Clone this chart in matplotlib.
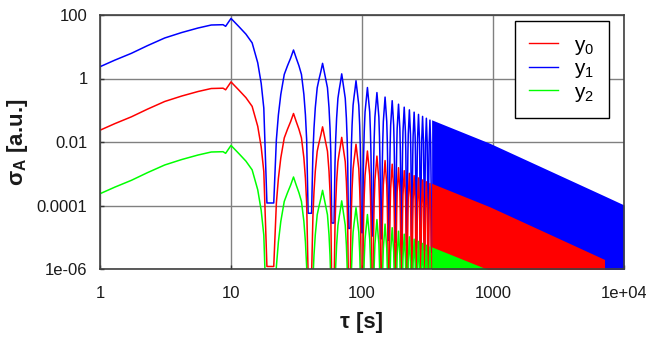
import matplotlib
matplotlib.use("Agg")
import matplotlib.pyplot as plt
from matplotlib.lines import Line2D

plt.rcParams['font.family'] = ['Liberation Sans', 'DejaVu Sans']
plt.rcParams['mathtext.fontset'] = 'custom'
plt.rcParams['mathtext.rm'] = 'Liberation Sans'
plt.rcParams['mathtext.bf'] = 'Liberation Sans:bold'

# ---------------- data (y1 = blue curve) ----------------
series_names = ["y0", "y1", "y2"]
series_colors = ["#ff0000", "#0000ff", "#00ff00"]
series_gain = [1e-2, 1.0, 1e-4]          # y0 and y2 sit 2 decades below / 4 below y1

rise_tau = [1, 1.3, 1.735, 2.3, 3.12, 4.2, 5.6, 7.07, 8.7, 9.1]
rise_y1 = [2.35, 3.8, 6.2, 10.8, 18.9, 28, 38.9, 48.4, 49.5, 44]

lobe_peak_tau = [10, 30, 50, 70, 90, 110, 130, 150, 170, 190, 210, 230, 250, 270, 290, 310, 330]
lobe_peak_y1 = [78, 7.9, 3.0, 1.4, 0.85, 0.52, 0.36, 0.26, 0.2, 0.155, 0.125, 0.103,
                0.087, 0.074, 0.064, 0.056, 0.049]

lobe_offset = [1.5, 3.0, 4.5, 6.0, 7.0, 7.8]          # distance from lobe peak [s]
lobe_ratio = [0.55, 0.32, 0.17, 0.04, 0.009, 0.0015]  # value relative to lobe peak

zero_tau = [20, 40, 60, 80, 100, 120, 140, 160, 180, 200, 220, 240, 260, 280, 300, 320, 340]
zero_floor_y1 = [1.2e-4, 5.7e-5, 2.8e-5, 1.9e-5, 1.4e-5, 1.1e-5, 9e-6, 8e-6, 7e-6, 6e-6,
                 5.5e-6, 5e-6, 4.6e-6, 4.2e-6, 3.9e-6, 3.6e-6, 3.4e-6]

dense_tau = [340, 946, 7100, 10000]
dense_top_y1 = [0.05, 0.0091, 2.0e-4, 1.04e-4]
dense_end = [7100, 10000, 10000]    # where each series' dense band stops being visible

x_ticks = [1, 10, 100, 1000, 10000]
x_ticklabels = ["1", "10", "100", "1000", "1e+04"]
y_ticks = [1e-6, 1e-4, 1e-2, 1, 100]
y_ticklabels = ["1e-06", "0.0001", "0.01", "1", "100"]

FLOOR_HALF = 1.2
BOTTOM = 1e-9


def build(gain):
    t = list(rise_tau)
    v = [y * gain for y in rise_y1]
    for k, (tp, pk) in enumerate(zip(lobe_peak_tau, lobe_peak_y1)):
        if k > 0:
            for d, r in zip(reversed(lobe_offset), reversed(lobe_ratio)):
                t.append(tp - d)
                v.append(pk * r * gain)
        t.append(tp)
        v.append(pk * gain)
        for d, r in zip(lobe_offset, lobe_ratio):
            t.append(tp + d)
            v.append(pk * r * gain)
        z = zero_tau[k]
        f = zero_floor_y1[k] * gain
        t += [z - FLOOR_HALF, z + FLOOR_HALF]
        v += [f, f]
    return t, v


fig = plt.figure(figsize=(6.46, 3.38), dpi=100)
ax = fig.add_axes([100 / 646, 1 - 269 / 338, 524 / 646, 254 / 338])
ax.set_xscale('log')
ax.set_yscale('log')

draw_order = [1, 0, 2]
for z, i in enumerate(draw_order):
    g = series_gain[i]
    t, v = build(g)
    ax.plot(t, v, color=series_colors[i], lw=1.1, zorder=2 + z)
    dt = [x for x in dense_tau if x <= dense_end[i]]
    top = [y * g for x, y in zip(dense_tau, dense_top_y1) if x <= dense_end[i]]
    ax.fill_between(dt, [BOTTOM] * len(dt), top, color=series_colors[i], lw=0,
                    zorder=2 + z)

ax.set_xlim(1, 1e4)
ax.set_ylim(1e-6, 100)
ax.set_xticks(x_ticks)
ax.set_xticklabels(x_ticklabels)
ax.set_yticks(y_ticks)
ax.set_yticklabels(y_ticklabels)
ax.minorticks_off()
ax.tick_params(direction='in', length=3, width=1, colors='#333333', labelsize=12,
               labelcolor='#1a1a1a')
ax.tick_params(axis='x', pad=12)
ax.tick_params(axis='y', pad=9)
ax.set_axisbelow(True)
ax.grid(True, which='major', color='#808080', lw=1.0)
for s in ax.spines.values():
    s.set_color('#404040')
    s.set_linewidth(1.2)
    s.set_zorder(10)

ax.set_xlabel('τ [s]', fontsize=16, fontweight='bold', labelpad=8, color='#1a1a1a')
ax.set_ylabel('σ$_\\mathbf{A}$ [a.u.]', fontsize=16, fontweight='bold', labelpad=5,
              color='#1a1a1a')

handles = [Line2D([], [], color=series_colors[i], lw=1.0) for i in range(3)]
labels = ['y$_\\mathrm{%s}$' % n[1] for n in series_names]
leg = ax.legend(handles, labels, loc='upper right', bbox_to_anchor=(0.971, 0.976),
                fontsize=15, frameon=True, fancybox=False, edgecolor='black',
                framealpha=1, handlelength=1.4, handletextpad=0.75,
                labelspacing=0.12, borderpad=0.7, borderaxespad=0)
leg.get_frame().set_linewidth(1.0)
leg.set_zorder(20)

fig.savefig('out.png', dpi=100)
